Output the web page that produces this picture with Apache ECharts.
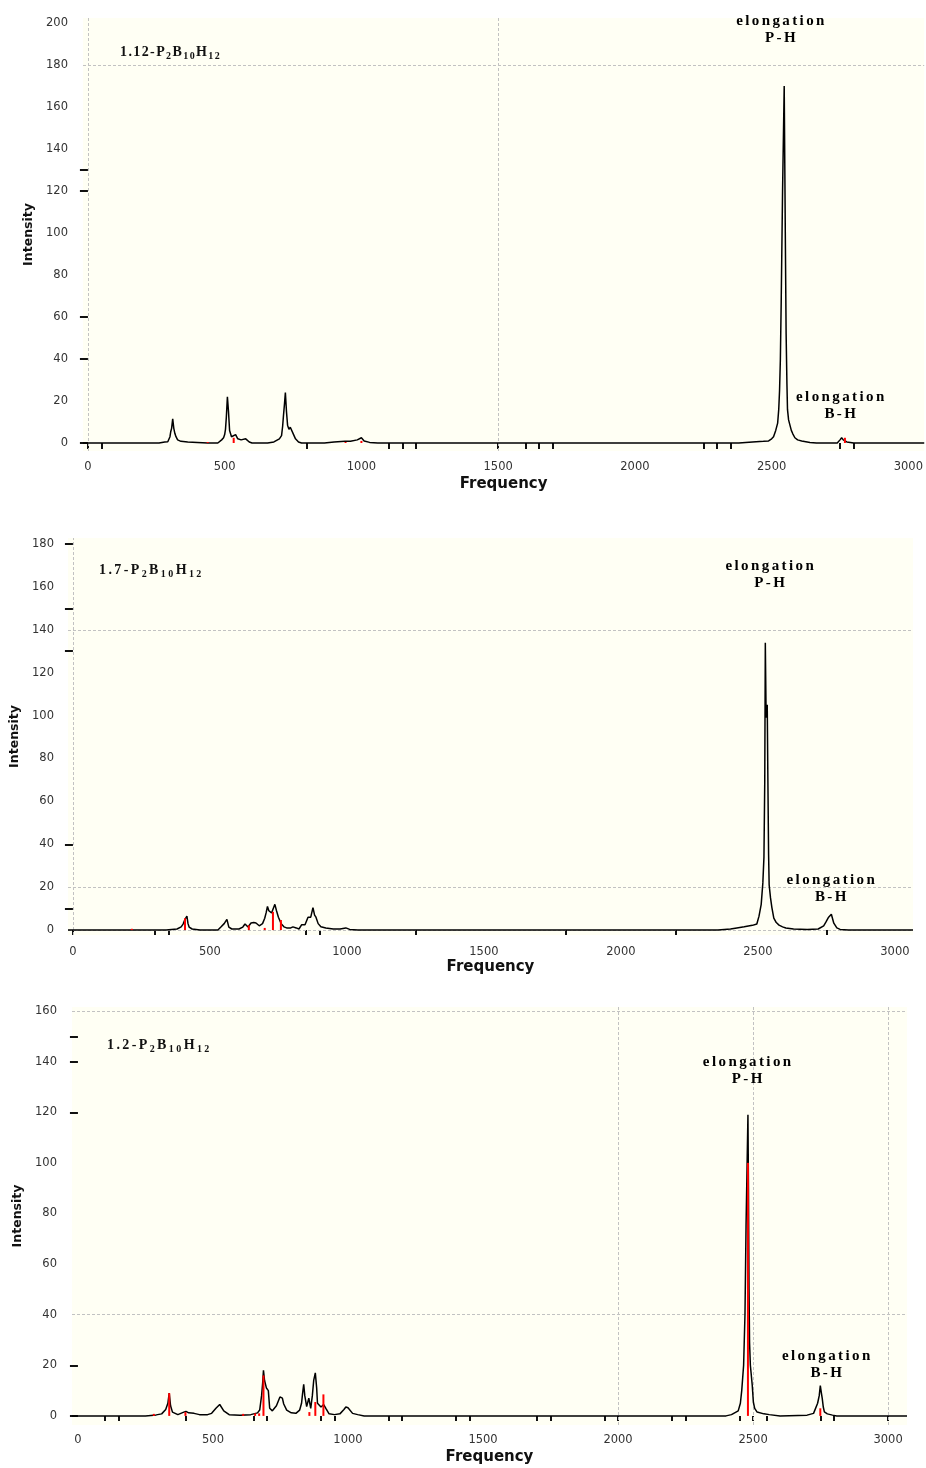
<!DOCTYPE html>
<html><head><meta charset="utf-8">
<script src="https://cdn.jsdelivr.net/npm/echarts@6/dist/echarts.min.js"></script>
<style>html,body{margin:0;padding:0;background:#fff}#c{width:926px;height:1468px}</style>
</head><body><div id="c"></div>
<script>
// ---------- data ----------
const xLabelValues = [0, 500, 1000, 1500, 2000, 2500, 3000];
const yLabels112 = [0, 20, 40, 60, 80, 100, 120, 140, 160, 180, 200];
const yLabels17  = [0, 20, 40, 60, 80, 100, 120, 140, 160, 180];
const yLabels12  = [0, 20, 40, 60, 80, 100, 120, 140, 160];
const yTicks112 = [0, 40, 60, 120, 130];
const yTicks17  = [10, 40, 130, 150, 180];
const yTicks12  = [0, 20, 120, 140, 150];
const xTicks112 = [0, 50, 800, 1100, 1150, 1200, 1500, 1600, 1650, 1700, 2250, 2300, 2350, 2750, 2800];
const xTicks17  = [0, 300, 350, 850, 900, 1250, 1800, 2200, 2750];
const xTicks12  = [100, 150, 400, 650, 700, 900, 950, 1150, 1200, 1400, 1450, 1700, 1750, 1950, 2000, 2200, 2250, 2450, 2500, 2550, 2750, 2800, 3000];
const gridX112 = [0, 1500], gridY112 = [180];
const gridX17 = [0],         gridY17 = [140, 20, 0];
const gridX12 = [2000, 2500, 3000], gridY12 = [160, 40];

const titles = ['1.12-P|2|B|10|H|12', '1.7-P|2|B|10|H|12', '1.2-P|2|B|10|H|12'];

// broadened spectrum (black) [frequency, intensity]
const spec112 = [[-18,0],[260,0],[281,0.5],[292,0.6],[300,3],[303,5.5],[306,7],[310,11.5],[314,7],[318,4.5],[322,3],[328,1.5],[340,0.8],[365,0.5],[400,0.3],[438,0],[475,0],[489,1.5],[496,2.5],[500,4],[503,6.5],[506,12],[510,22],[514,15],[518,6],[525,3],[532,3],[540,4],[548,2],[560,1.5],[577,2],[590,0.5],[600,0],[657,0],[680,0.5],[700,2],[708,3.5],[712,8],[715,13],[719,19],[722,24],[726,15],[730,8.5],[735,6.5],[740,7.5],[746,7],[752,4],[759,2],[770,0.5],[781,0],[865,0],[900,0.5],[940,0.8],[960,0.8],[985,1.5],[1000,2.5],[1010,1],[1030,0.3],[1060,0],[2380,0],[2430,0.5],[2470,0.8],[2489,1],[2500,2],[2507,3],[2515,6],[2522,9.5],[2526,16],[2529,25],[2532,40],[2535,67],[2540,120],[2546,170],[2550,100],[2553,52],[2556,28],[2558,16],[2562,11],[2566,9],[2572,6],[2577,4.5],[2585,2.5],[2595,1.5],[2610,1],[2640,0.3],[2664,0],[2740,0],[2750,1.5],[2756,2.5],[2762,1.5],[2775,0.5],[2800,0],[3058,0]];
const spec17 = [[-18,0],[340,0],[380,0.5],[395,1.5],[402,2.8],[409,5],[416,6.5],[420,3],[424,1.4],[435,0.5],[464,0],[529,0],[540,1.4],[552,3],[562,5],[569,1.4],[580,0.5],[606,0.5],[620,1.4],[628,2.8],[634,2],[639,1.4],[650,3.3],[660,3.5],[668,3.3],[680,2],[692,3],[700,5.5],[705,8],[710,11],[715,9],[725,8],[737,12],[743,9],[750,6],[760,3],[770,1.5],[780,1],[795,1],[803,1.5],[815,1],[825,0.5],[835,2.5],[847,2.5],[858,6],[868,6],[876,10.5],[882,7],[887,6],[895,3],[905,1.5],[923,1],[950,0.5],[975,0.5],[996,1],[1010,0.3],[1040,0],[2354,0],[2400,0.5],[2423,1],[2450,1.5],[2480,2.2],[2496,2.8],[2504,6.5],[2512,12],[2518,22],[2522,34],[2525,70],[2527,134],[2530,99],[2534,105],[2536,75],[2539,35],[2541,21],[2546,15],[2551,10.5],[2558,5.6],[2567,3.5],[2577,2.3],[2590,1.5],[2602,1],[2630,0.5],[2680,0.3],[2720,0.5],[2740,2],[2748,3.7],[2758,6],[2768,7.4],[2777,3.2],[2788,1],[2800,0.3],[2830,0],[3066,0]];
const spec12 = [[-22,0],[250,0],[290,0.4],[310,0.8],[325,2.5],[333,5],[338,9],[343,4],[350,1.5],[370,0.5],[392,1.5],[400,1.8],[410,1.2],[430,1],[450,0.5],[480,0.5],[495,1],[511,3],[525,4.5],[540,2],[560,0.5],[600,0.3],[640,0.5],[665,1.2],[673,2.3],[680,8],[684,13],[687,18],[691,14],[698,11],[705,10],[710,3],[720,2],[735,4],[748,7.5],[757,7],[762,4.7],[773,2.3],[790,1.2],[807,1],[821,2.3],[828,5],[832,9],[836,12.5],[840,8],[847,3.7],[855,7],[862,3],[868,8],[873,14],[879,17],[884,11],[887,5],[900,3.5],[910,4.5],[918,3],[930,0.8],[950,0.5],[970,0.8],[985,2.5],[992,3.5],[1000,3.2],[1007,3],[1017,1],[1036,0.5],[1060,0],[2400,0],[2420,0.5],[2445,2],[2453,5],[2458,10],[2465,20],[2470,40],[2474,75],[2478,100],[2481,119],[2483,90],[2485,50],[2487,29],[2490,20],[2497,12],[2501,5.5],[2506,3],[2515,1.5],[2540,0.8],[2560,0.5],[2600,0],[2700,0.3],[2724,1],[2739,5],[2745,8],[2749,12],[2753,9],[2756,7],[2760,3.5],[2764,1.6],[2775,0.8],[2794,0.3],[2810,0],[3070,0]];

// computed line intensities (red sticks) [frequency, intensity]
const sticks112 = [[438,0.5],[533,2.5],[942,0.5],[1000,1],[2768,2.5]];
const sticks17  = [[215,0.6],[409,5.5],[642,2.2],[700,1],[730,8.5],[759,4.7]];
const sticks12  = [[281,0.8],[338,9],[398,1.5],[612,0.8],[656,1],[671,1],[687,16],[857,1.5],[879,5.5],[909,8.5],[2481,100],[2749,3]];

// annotations [frequency, intensity, line1, line2]
const annot112 = [[2536,196.7,'elongation','P-H'],[2755,17.9,'elongation','B-H']];
const annot17  = [[2547,165.6,'elongation','P-H'],[2770,19.1,'elongation','B-H']];
const annot12  = [[2482,136.5,'elongation','P-H'],[2775,20.3,'elongation','B-H']];

// ---------- build ----------
function spaced(str, style) {
  return str.split('').map(function (ch) { return '{' + style + '|' + ch + '}'; }).join('');
}
function titleText(t) {
  return t.split('|').map(function (part, i) { return spaced(part, i % 2 ? 's' : 'm'); }).join('');
}
const SERIF = 'Liberation Serif';
const SANS = 'DejaVu Sans';

const panels = [
  {grid:{left:83, top:18, width:843, height:433}, xr:[-18,3058], yr:[-3.8,202.4], yl:yLabels112, yt:yTicks112, xt:xTicks112,
   gx:gridX112, gy:gridY112, spec:spec112, st:sticks112, an:annot112, yoff:3, ymargin:12, xoff:0, xlen:6, xmargin:10, xgap:26,
   title:{left:120, top:45, sp:1.4}, tx:titles[0]},
  {grid:{left:68, top:538, width:845, height:397}, xr:[-18,3066], yr:[-2.3,182.8], yl:yLabels17, yt:yTicks17, xt:xTicks17,
   gx:gridX17, gy:gridY17, spec:spec17, st:sticks17, an:annot17, yoff:3, ymargin:11, xoff:3, xlen:5, xmargin:8, xgap:22,
   title:{left:99, top:563, sp:2.4}, tx:titles[1]},
  {grid:{left:72, top:1007, width:835, height:418}, xr:[-22,3070], yr:[-3.6,161.6], yl:yLabels12, yt:yTicks12, xt:xTicks12,
   gx:gridX12, gy:gridY12, spec:spec12, st:sticks12, an:annot12, yoff:2, ymargin:13, xoff:0, xlen:5, xmargin:9, xgap:25,
   title:{left:107, top:1038, sp:2.4}, tx:titles[2]}
];

const option = {
  animation: false,
  backgroundColor: '#ffffff',
  grid: [], xAxis: [], yAxis: [], series: [], title: []
};

panels.forEach(function (p, i) {
  option.grid.push(Object.assign({show:true, backgroundColor:'#fffff4', borderWidth:0, containLabel:false}, p.grid));
  option.xAxis.push({
    type:'value', gridIndex:i, min:p.xr[0], max:p.xr[1], offset:p.xoff,
    name:'Frequency', nameLocation:'middle', nameGap:p.xgap,
    nameTextStyle:{fontFamily:SANS, fontWeight:'bold', fontSize:15, color:'#111', verticalAlign:'top'},
    axisLine:{show:false}, splitLine:{show:false},
    axisTick:{show:true, customValues:p.xt, length:p.xlen, lineStyle:{color:'#111', width:2}},
    axisLabel:{customValues:xLabelValues, margin:p.xmargin, fontFamily:SANS, fontSize:11.5, color:'#333',
      formatter:function (v) { return String(v); }}
  });
  option.yAxis.push({
    type:'value', gridIndex:i, min:p.yr[0], max:p.yr[1], offset:p.yoff,
    name:'Intensity', nameLocation:'middle', nameGap:42,
    nameTextStyle:{fontFamily:SANS, fontWeight:'bold', fontSize:12.5, color:'#111'},
    axisLine:{show:false}, splitLine:{show:false},
    axisTick:{show:true, customValues:p.yt, length:8, lineStyle:{color:'#111', width:2}},
    axisLabel:{customValues:p.yl, margin:p.ymargin, fontFamily:SANS, fontSize:11.5, color:'#333',
      formatter:function (v) { return String(v); }}
  });
  const ml = p.gx.map(function (v) { return {xAxis:v}; }).concat(p.gy.map(function (v) { return {yAxis:v}; }));
  option.series.push({
    type:'line', xAxisIndex:i, yAxisIndex:i, data:p.spec, symbol:'none', showSymbol:false,
    lineStyle:{color:'#000', width:1.5}, z:3, silent:true,
    markLine:{silent:true, symbol:'none', z:1, animation:false, label:{show:false},
      lineStyle:{color:'#c2c2c2', type:[3,2], width:1}, data:ml}
  });
  option.series.push({
    type:'bar', xAxisIndex:i, yAxisIndex:i, data:p.st, barWidth:2, z:4, silent:true,
    itemStyle:{color:'#ff0000'}
  });
  const sp = 2.4;
  option.series.push({
    type:'scatter', xAxisIndex:i, yAxisIndex:i, symbolSize:1, silent:true, z:6,
    itemStyle:{color:'rgba(0,0,0,0)', opacity:1},
    data:p.an.map(function (a) {
      return {value:[a[0], a[1]], label:{formatter: spaced(a[2], 'a') + '\n' + spaced(a[3], 'a')}};
    }),
    label:{show:true, position:'inside', align:'center', verticalAlign:'middle', opacity:1,
      rich:{a:{fontFamily:SERIF, fontWeight:'bold', fontSize:15, lineHeight:17, color:'#000', opacity:1, padding:[0, sp, 0, 0]}}}
  });
  option.title.push({
    left:p.title.left, top:p.title.top, padding:0,
    text:titleText(p.tx),
    textStyle:{rich:{
      m:{fontFamily:SERIF, fontWeight:'bold', fontSize:14, lineHeight:16, color:'#111', padding:[0, p.title.sp, 2, 0], verticalAlign:'bottom'},
      s:{fontFamily:SERIF, fontWeight:'bold', fontSize:10, lineHeight:12, color:'#111', padding:[0, p.title.sp, 0, 0], verticalAlign:'bottom'}
    }}
  });
});

const chart = echarts.init(document.getElementById('c'), null, {renderer:'canvas'});
chart.setOption(option);
</script></body></html>
